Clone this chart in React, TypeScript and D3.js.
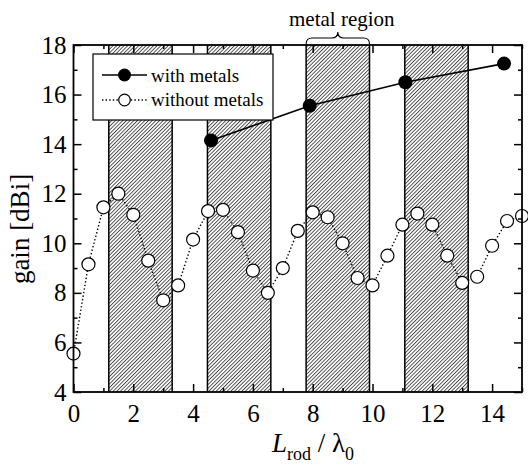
import React from "react";
import { useEffect, useRef } from "react";
import * as d3 from "d3";

// gain vs rod length
const lenWithout = [0, 0.5, 1, 1.5, 2, 2.5, 3, 3.5, 4, 4.5, 5, 5.5, 6, 6.5, 7, 7.5, 8, 8.5, 9, 9.5, 10, 10.5, 11, 11.5, 12, 12.5, 13, 13.5, 14, 14.5, 15];
const gainWithout = [5.55, 9.15, 11.45, 12.0, 11.15, 9.3, 7.7, 8.3, 10.15, 11.3, 11.35, 10.45, 8.9, 8.0, 9.0, 10.5, 11.25, 11.05, 10.0, 8.6, 8.3, 9.5, 10.75, 11.2, 10.75, 9.5, 8.4, 8.65, 9.9, 10.9, 11.1];
const lenWith = [4.6, 7.9, 11.1, 14.4];
const gainWith = [14.15, 15.55, 16.5, 17.25];
const metalStart = [1.18, 4.48, 7.78, 11.08];
const metalEnd = [3.3, 6.6, 9.9, 13.2];
const xMajor = [0, 2, 4, 6, 8, 10, 12, 14];
const xMinor = [1, 3, 5, 7, 9, 11, 13, 15];
const yMajor = [4, 6, 8, 10, 12, 14, 16, 18];
const yMinor = [5, 7, 9, 11, 13, 15, 17];

const W = 528;
const H = 464;
const FONT = "'Liberation Serif', 'Times New Roman', serif";

export default function App() {
  const ref = useRef<SVGSVGElement | null>(null);

  useEffect(() => {
    draw();
  }, []);

  function draw() {
    const left = 73.5, right = 522, top = 45, bottom = 392;
    const svg = d3.select(ref.current);
    svg.selectAll("*").remove();

    const x = d3.scaleLinear().domain([0, 15]).range([left, right]);
    const y = d3.scaleLinear().domain([4, 18]).range([bottom, top]);

    const defs = svg.append("defs");
    const pat = defs
      .append("pattern")
      .attr("id", "hatch")
      .attr("patternUnits", "userSpaceOnUse")
      .attr("width", 2.6)
      .attr("height", 10)
      .attr("patternTransform", "rotate(45)");
    pat
      .append("line")
      .attr("x1", 0.5)
      .attr("y1", 0)
      .attr("x2", 0.5)
      .attr("y2", 10)
      .attr("stroke", "#1a1a1a")
      .attr("stroke-width", 0.8);

    // metal regions
    const regions = metalStart.map((s, i) => ({ s, e: metalEnd[i] }));
    const rg = svg.append("g");
    rg.selectAll("rect")
      .data(regions)
      .enter()
      .append("rect")
      .attr("x", (d) => x(d.s))
      .attr("y", top)
      .attr("width", (d) => x(d.e) - x(d.s))
      .attr("height", bottom - top)
      .attr("fill", "url(#hatch)");
    regions.forEach((d) => {
      [d.s, d.e].forEach((v) => {
        rg.append("line")
          .attr("x1", x(v))
          .attr("x2", x(v))
          .attr("y1", top)
          .attr("y2", bottom)
          .attr("stroke", "black")
          .attr("stroke-width", 1.5);
      });
    });

    // without metals
    const ptsWithout = lenWithout.map((v, i) => [v, gainWithout[i]] as [number, number]);
    const line = d3
      .line<[number, number]>()
      .x((d) => x(d[0]))
      .y((d) => y(d[1]));
    svg
      .append("path")
      .attr("d", line(ptsWithout))
      .attr("fill", "none")
      .attr("stroke", "black")
      .attr("stroke-width", 1.4)
      .attr("stroke-dasharray", "1.4,2.2");
    svg
      .append("g")
      .selectAll("circle")
      .data(ptsWithout)
      .enter()
      .append("circle")
      .attr("cx", (d) => x(d[0]))
      .attr("cy", (d) => y(d[1]))
      .attr("r", 6.5)
      .attr("fill", "white")
      .attr("stroke", "black")
      .attr("stroke-width", 1.2);

    // with metals
    const ptsWith = lenWith.map((v, i) => [v, gainWith[i]] as [number, number]);
    svg
      .append("path")
      .attr("d", line(ptsWith))
      .attr("fill", "none")
      .attr("stroke", "black")
      .attr("stroke-width", 1.6);
    svg
      .append("g")
      .selectAll("circle")
      .data(ptsWith)
      .enter()
      .append("circle")
      .attr("cx", (d) => x(d[0]))
      .attr("cy", (d) => y(d[1]))
      .attr("r", 7)
      .attr("fill", "black");

    // legend
    const lg = svg.append("g");
    lg.append("rect")
      .attr("x", 93)
      .attr("y", 54)
      .attr("width", 180)
      .attr("height", 66)
      .attr("fill", "white")
      .attr("stroke", "black")
      .attr("stroke-width", 1.2);
    lg.append("line")
      .attr("x1", 102).attr("x2", 147).attr("y1", 75).attr("y2", 75)
      .attr("stroke", "black").attr("stroke-width", 1.6);
    lg.append("circle").attr("cx", 124.5).attr("cy", 75).attr("r", 6.5).attr("fill", "black");
    lg.append("line")
      .attr("x1", 102).attr("x2", 147).attr("y1", 100).attr("y2", 100)
      .attr("stroke", "black").attr("stroke-width", 1.4).attr("stroke-dasharray", "1.4,2.2");
    lg.append("circle")
      .attr("cx", 124.5).attr("cy", 100).attr("r", 5.8)
      .attr("fill", "white").attr("stroke", "black").attr("stroke-width", 1.2);
    lg.append("text").attr("x", 151).attr("y", 81.5).text("with metals")
      .style("font-family", FONT).style("font-size", "19px");
    lg.append("text").attr("x", 151).attr("y", 106).text("without metals")
      .style("font-family", FONT).style("font-size", "19px");

    // axes
    const styleAxis = (g: any, withText: boolean) => {
      g.select(".domain").remove();
      g.selectAll(".tick line").attr("stroke", "black").attr("stroke-width", 1.5);
      if (withText) {
        g.selectAll("text")
          .attr("fill", "black")
          .style("font-family", FONT)
          .style("font-size", "25px");
      } else {
        g.selectAll("text").remove();
      }
    };
    svg.append("g").attr("transform", `translate(0,${bottom})`)
      .call(d3.axisBottom(x).tickValues(xMajor).tickSize(-8).tickPadding(12).tickFormat(d3.format("d")))
      .call((g: any) => styleAxis(g, true));
    svg.append("g").attr("transform", `translate(0,${bottom})`)
      .call(d3.axisBottom(x).tickValues(xMinor).tickSize(-4))
      .call((g: any) => styleAxis(g, false));
    svg.append("g").attr("transform", `translate(0,${top})`)
      .call(d3.axisTop(x).tickValues(xMajor).tickSize(-8))
      .call((g: any) => styleAxis(g, false));
    svg.append("g").attr("transform", `translate(0,${top})`)
      .call(d3.axisTop(x).tickValues(xMinor).tickSize(-4))
      .call((g: any) => styleAxis(g, false));
    svg.append("g").attr("transform", `translate(${left},0)`)
      .call(d3.axisLeft(y).tickValues(yMajor).tickSize(-8).tickPadding(7).tickFormat(d3.format("d")))
      .call((g: any) => styleAxis(g, true));
    svg.append("g").attr("transform", `translate(${left},0)`)
      .call(d3.axisLeft(y).tickValues(yMinor).tickSize(-4))
      .call((g: any) => styleAxis(g, false));
    svg.append("g").attr("transform", `translate(${right},0)`)
      .call(d3.axisRight(y).tickValues(yMajor).tickSize(-8))
      .call((g: any) => styleAxis(g, false));
    svg.append("g").attr("transform", `translate(${right},0)`)
      .call(d3.axisRight(y).tickValues(yMinor).tickSize(-4))
      .call((g: any) => styleAxis(g, false));

    svg.append("rect")
      .attr("x", left).attr("y", top)
      .attr("width", right - left).attr("height", bottom - top)
      .attr("fill", "none").attr("stroke", "black").attr("stroke-width", 1.8);

    // brace over the third metal region
    const bx0 = x(metalStart[2]);
    const bx1 = x(metalEnd[2]);
    const bm = (bx0 + bx1) / 2;
    svg.append("path")
      .attr("d", `M${bx0},44 Q${bx0},38 ${bx0 + 6},38 L${bm - 6},38 Q${bm},38 ${bm},32 Q${bm},38 ${bm + 6},38 L${bx1 - 6},38 Q${bx1},38 ${bx1},44`)
      .attr("fill", "none")
      .attr("stroke", "black")
      .attr("stroke-width", 1.1);
    svg.append("text")
      .attr("x", bm + 4)
      .attr("y", 26)
      .attr("text-anchor", "middle")
      .style("font-family", FONT)
      .style("font-size", "21px")
      .text("metal region");

    // axis titles
    svg.append("text")
      .attr("transform", `translate(29,229) rotate(-90)`)
      .attr("text-anchor", "middle")
      .style("font-family", FONT)
      .style("font-size", "27px")
      .text("gain [dBi]");

    const xt = svg.append("text")
      .attr("x", 313)
      .attr("y", 452)
      .attr("text-anchor", "middle")
      .style("font-family", FONT)
      .style("font-size", "27px");
    xt.append("tspan").style("font-style", "italic").text("L");
    xt.append("tspan").attr("dy", 8).style("font-size", "18px").text("rod");
    xt.append("tspan").attr("dy", -8).text(" / λ");
    xt.append("tspan").attr("dy", 8).style("font-size", "18px").text("0");
  }

  return (
    <svg
      ref={ref}
      width={W}
      height={H}
      style={{ position: "absolute", left: 0, top: 0, background: "white" }}
    />
  );
}
